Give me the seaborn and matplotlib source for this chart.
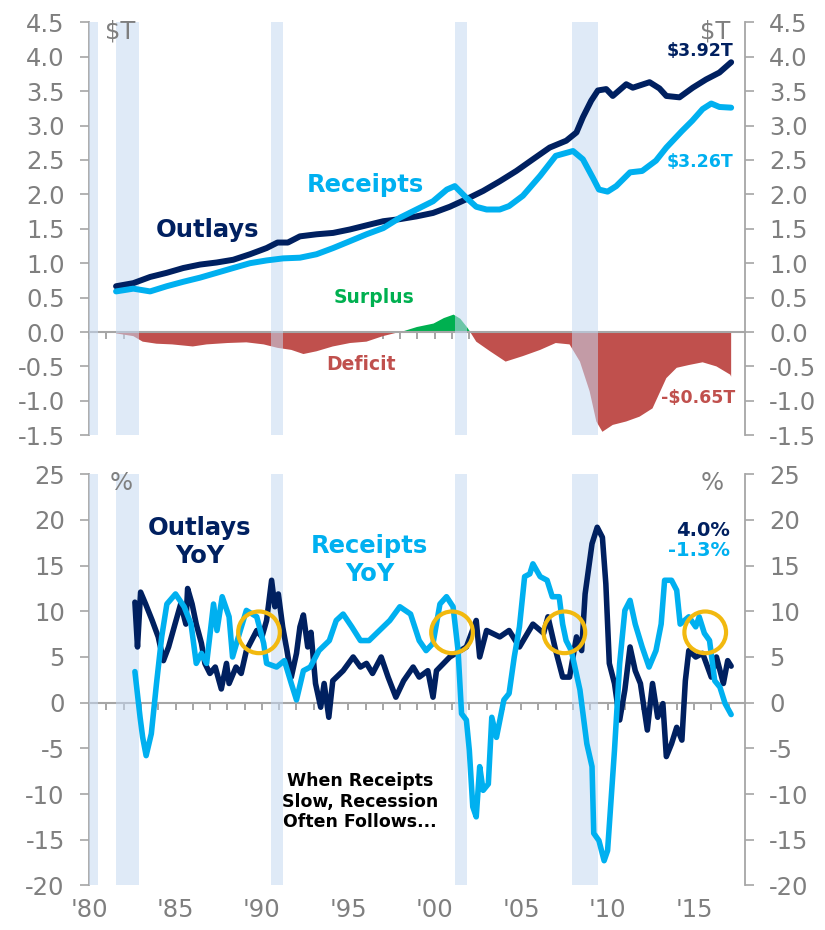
import numpy as np
import pandas as pd
import matplotlib
matplotlib.use("Agg")
import matplotlib.pyplot as plt
import seaborn as sns

# ---------------- data ----------------
outlay_years = [1981.56, 1982.56, 1983.53, 1984.49, 1985.45, 1986.42, 1987.38, 1988.34, 1989.31,
                1990.27, 1990.9, 1991.5, 1992.2, 1993.16, 1994.12, 1995.09, 1996.05, 1997.02,
                1997.98, 1998.94, 1999.9, 2000.87, 2001.83, 2002.8, 2003.76, 2004.72, 2005.68,
                2006.65, 2007.61, 2008.2, 2008.57, 2009.05, 2009.44, 2009.92, 2010.3, 2011.08,
                2011.46, 2012.43, 2013.0, 2013.4, 2014.16, 2014.93, 2015.7, 2016.47, 2017.15]
outlays = [0.665, 0.71, 0.80, 0.86, 0.93, 0.98, 1.01, 1.05, 1.13,
           1.22, 1.30, 1.30, 1.39, 1.42, 1.44, 1.49, 1.55, 1.61,
           1.64, 1.68, 1.73, 1.82, 1.93, 2.05, 2.19, 2.34, 2.51,
           2.68, 2.78, 2.90, 3.12, 3.36, 3.51, 3.53, 3.43, 3.60,
           3.55, 3.63, 3.54, 3.43, 3.41, 3.55, 3.67, 3.77, 3.92]

receipt_years = [1981.56, 1982.56, 1983.53, 1984.49, 1985.45, 1986.42, 1987.38, 1988.34, 1989.31,
                 1990.27, 1991.23, 1992.2, 1993.16, 1994.12, 1995.09, 1996.05, 1997.02, 1997.98,
                 1998.94, 1999.9, 2000.7, 2001.16, 2001.83, 2002.4, 2003.0, 2003.76, 2004.3,
                 2005.1, 2006.1, 2007.0, 2008.0, 2008.57, 2009.15, 2009.5, 2010.0, 2010.5,
                 2011.3, 2012.0, 2012.8, 2013.4, 2014.3, 2014.9, 2015.5, 2016.0, 2016.47, 2017.15]
receipts = [0.59, 0.63, 0.59, 0.665, 0.73, 0.79, 0.86, 0.93, 1.00,
            1.04, 1.07, 1.08, 1.13, 1.22, 1.32, 1.42, 1.51, 1.66,
            1.78, 1.90, 2.07, 2.12, 1.95, 1.82, 1.78, 1.78, 1.83,
            1.98, 2.27, 2.56, 2.63, 2.51, 2.24, 2.07, 2.04, 2.12,
            2.32, 2.34, 2.49, 2.68, 2.92, 3.07, 3.24, 3.32, 3.27, 3.26]

balance_years = [1981.56, 1982.56, 1983.1, 1983.9, 1984.8, 1986.0, 1986.8, 1988.0, 1989.1,
                 1990.1, 1990.9, 1991.7, 1992.4, 1993.16, 1994.1, 1995.1, 1996.05, 1997.0,
                 1997.8, 1998.3, 1998.94, 1999.9, 2000.5, 2001.06, 2001.45, 2001.83, 2002.05,
                 2002.4, 2003.2, 2004.1, 2005.1, 2006.1, 2007.0, 2007.8, 2008.4, 2008.96,
                 2009.35, 2009.7, 2010.3, 2011.08, 2011.85, 2012.6, 2013.4, 2014.0, 2014.7,
                 2015.5, 2016.3, 2017.1, 2017.15]
balance = [-0.02, -0.06, -0.14, -0.17, -0.18, -0.21, -0.18, -0.16, -0.15,
           -0.18, -0.23, -0.26, -0.32, -0.28, -0.21, -0.16, -0.14, -0.06,
           -0.01, 0.03, 0.08, 0.13, 0.21, 0.26, 0.20, 0.08, 0.0,
           -0.14, -0.28, -0.43, -0.35, -0.26, -0.16, -0.18, -0.43, -0.86,
           -1.30, -1.45, -1.35, -1.30, -1.23, -1.11, -0.67, -0.52, -0.48,
           -0.44, -0.50, -0.62, -0.65]

out_yoy_years = [1982.65, 1982.8, 1982.98, 1983.27, 1983.65, 1984.0, 1984.3, 1984.6, 1984.97,
                 1985.3, 1985.6, 1985.7, 1985.96, 1986.2, 1986.5, 1986.7, 1986.99, 1987.3,
                 1987.65, 1987.95, 1988.1, 1988.5, 1988.8, 1989.1, 1989.4, 1989.7, 1990.0,
                 1990.27, 1990.56, 1990.75, 1990.95, 1991.2, 1991.45, 1991.7, 1992.0, 1992.2,
                 1992.4, 1992.65, 1992.84, 1993.1, 1993.4, 1993.6, 1993.87, 1994.1, 1994.7,
                 1995.28, 1995.7, 1996.05, 1996.4, 1996.9, 1997.3, 1997.75, 1998.2, 1998.75,
                 1999.1, 1999.6, 1999.9, 2000.1, 2000.87, 2001.83, 2002.4, 2002.6, 2003.0,
                 2003.76, 2004.3, 2004.9, 2005.68, 2006.3, 2006.55, 2007.0, 2007.4, 2007.8,
                 2008.2, 2008.5, 2008.7, 2009.1, 2009.4, 2009.7, 2009.9, 2010.1, 2010.4,
                 2010.7, 2011.0, 2011.3, 2011.6, 2011.9, 2012.3, 2012.6, 2012.9, 2013.2,
                 2013.4, 2013.7, 2014.0, 2014.3, 2014.5, 2014.7, 2015.1, 2015.5, 2016.0,
                 2016.3, 2016.7, 2016.95, 2017.15]
outlays_yoy = [11.0, 6.1, 12.1, 10.8, 9.0, 7.2, 4.6, 6.1, 8.6,
               10.8, 8.6, 12.5, 10.8, 8.6, 6.5, 4.3, 3.2, 3.9,
               1.5, 4.3, 2.1, 3.9, 3.2, 5.7, 6.8, 7.9, 7.2,
               9.0, 13.4, 10.5, 11.9, 8.3, 5.7, 2.8, 5.4, 8.3,
               9.6, 6.1, 7.7, 2.1, -0.5, 2.1, -1.6, 2.4, 3.5,
               5.0, 3.9, 4.3, 3.2, 5.0, 2.8, 0.6, 2.4, 3.9,
               2.8, 3.5, 0.6, 3.5, 5.0, 6.1, 9.0, 5.0, 7.9,
               7.2, 7.9, 6.1, 8.6, 7.6, 9.4, 5.7, 2.8, 2.8,
               7.2, 5.7, 11.9, 17.4, 19.2, 18.1, 13.0, 4.3, 2.1,
               -1.9, 1.4, 6.1, 3.5, 2.1, -3.0, 2.1, -1.6, -0.1,
               -5.9, -4.5, -2.7, -4.1, 2.4, 5.7, 5.0, 5.4, 2.8,
               5.0, 2.1, 4.6, 4.0]

rec_yoy_years = [1982.65, 1982.95, 1983.1, 1983.3, 1983.6, 1983.9, 1984.2, 1984.5, 1985.0,
                 1985.5, 1985.9, 1986.2, 1986.5, 1986.8, 1987.2, 1987.4, 1987.7, 1988.1,
                 1988.3, 1988.7, 1989.1, 1989.7, 1990.1, 1990.27, 1990.85, 1991.3, 1991.7,
                 1992.0, 1992.4, 1992.8, 1993.3, 1993.9, 1994.3, 1994.7, 1995.2, 1995.7,
                 1996.2, 1996.8, 1997.4, 1997.98, 1998.6, 1999.1, 1999.5, 1999.9, 2000.3,
                 2000.68, 2001.06, 2001.35, 2001.55, 2001.83, 2002.0, 2002.2, 2002.4, 2002.6,
                 2002.8, 2003.1, 2003.3, 2003.57, 2004.0, 2004.3, 2004.6, 2004.9, 2005.2,
                 2005.5, 2005.68, 2006.1, 2006.5, 2006.8, 2007.2, 2007.4, 2007.6, 2007.9,
                 2008.4, 2008.8, 2009.1, 2009.2, 2009.5, 2009.8, 2010.0, 2010.4, 2010.7,
                 2011.0, 2011.3, 2011.6, 2012.0, 2012.4, 2012.8, 2013.1, 2013.3, 2013.7,
                 2014.0, 2014.2, 2014.7, 2015.1, 2015.3, 2015.6, 2015.9, 2016.2, 2016.5,
                 2016.8, 2017.15]
receipts_yoy = [3.4, -1.6, -3.8, -5.8, -3.4, 2.1, 7.2, 10.8, 11.9,
                10.5, 8.6, 4.3, 5.4, 4.3, 10.8, 7.9, 11.6, 9.4,
                5.0, 7.6, 10.1, 9.4, 6.5, 4.3, 3.9, 4.6, 2.1,
                0.3, 3.5, 3.9, 5.7, 6.8, 9.0, 9.7, 8.3, 6.8,
                6.8, 7.9, 9.0, 10.5, 9.7, 6.8, 5.7, 6.5, 10.8,
                11.6, 10.5, 5.7, -1.2, -1.9, -5.2, -11.4, -12.5, -7.0,
                -9.6, -8.9, -1.6, -3.8, 0.3, 1.0, 5.0, 8.3, 13.8,
                14.1, 15.2, 13.8, 13.4, 11.6, 11.6, 8.6, 6.8, 5.7,
                1.4, -4.5, -7.0, -14.3, -15.1, -17.3, -16.2, -5.2, 4.3,
                10.1, 11.2, 8.6, 6.1, 3.9, 5.7, 8.6, 13.4, 13.4,
                12.3, 8.6, 9.4, 8.3, 9.4, 7.6, 6.8, 2.4, 1.7,
                -0.1, -1.3]

recession_start = [1980.0, 1981.54, 1990.54, 2001.17, 2007.92]
recession_end = [1980.54, 1982.87, 1991.21, 2001.84, 2009.46]

circle_years = [1989.83, 2001.0, 2007.5, 2015.65]
circle_level = [7.7, 7.7, 7.7, 7.7]

top_ticks = [-1.5, -1.0, -0.5, 0.0, 0.5, 1.0, 1.5, 2.0, 2.5, 3.0, 3.5, 4.0, 4.5]
bottom_ticks = [-20, -15, -10, -5, 0, 5, 10, 15, 20, 25]
year_ticks = [1980, 1985, 1990, 1995, 2000, 2005, 2010, 2015]
year_labels = ["'80", "'85", "'90", "'95", "'00", "'05", "'10", "'15"]

# ---------------- style ----------------
sns.set_style("white")
plt.rcParams['font.family'] = ['DejaVu Sans']

NAVY = '#002060'
CYAN = '#00B0F0'
RED = '#C0504D'
GREEN = '#00B050'
GREY = '#7F7F7F'
SPINE = '#A6A6A6'
BAND = '#C6D9F1'
GOLD = '#F2B90F'

fig = plt.figure(figsize=(8.25, 9.3), dpi=100)
ax1 = fig.add_axes([0.108, 0.532, 0.795, 0.444])
ax2 = fig.add_axes([0.108, 0.048, 0.795, 0.442])

XMIN, XMAX = 1980.0, 2017.95


def style_axes(ax, ylim, yticks, fmt):
    ax.set_xlim(XMIN, XMAX)
    ax.set_ylim(*ylim)
    ax.set_yticks(yticks)
    ax.set_yticklabels([fmt(v) for v in yticks])
    for s in ['top', 'right']:
        ax.spines[s].set_visible(False)
    ax.spines['left'].set_color(SPINE)
    ax.spines['left'].set_linewidth(1.3)
    ax.spines['bottom'].set_position(('data', 0))
    ax.spines['bottom'].set_color(SPINE)
    ax.spines['bottom'].set_linewidth(1.5)
    ax.set_xticks(np.arange(1980, 2018))
    ax.set_xticklabels([])
    ax.tick_params(axis='x', bottom=True, top=False, direction='out', length=5,
                   width=1.4, color=SPINE)
    ax.tick_params(axis='y', left=True, right=False, direction='out', length=6.5,
                   width=1.2, color=SPINE, labelsize=17.5, labelcolor=GREY, pad=11)
    ax.set_xlabel('')
    ax.set_ylabel('')
    # right axis
    axr = ax.twinx()
    axr.set_ylim(*ylim)
    axr.set_yticks(yticks)
    axr.set_yticklabels([fmt(v) for v in yticks])
    for s in ['top', 'left', 'bottom']:
        axr.spines[s].set_visible(False)
    axr.spines['right'].set_color(SPINE)
    axr.spines['right'].set_linewidth(1.3)
    axr.tick_params(axis='y', right=True, left=False, direction='out', length=6.5,
                    width=1.2, color=SPINE, labelsize=17.5, labelcolor=GREY, pad=11)
    axr.set_ylabel('')
    return axr


def bands(ax):
    for s, e in zip(recession_start, recession_end):
        ax.axvspan(s, e, color=BAND, alpha=0.55, lw=0, zorder=3)


# ---------------- top panel ----------------
bal = np.array(balance)
by = np.array(balance_years)
ax1.fill_between(by, bal, 0, where=bal <= 0, interpolate=True, color=RED, lw=0, zorder=1)
ax1.fill_between(by, bal, 0, where=bal >= 0, interpolate=True, color=GREEN, lw=0, zorder=1)
bands(ax1)
df_o = pd.DataFrame({'year': outlay_years, 'value': outlays})
df_r = pd.DataFrame({'year': receipt_years, 'value': receipts})
sns.lineplot(data=df_o, x='year', y='value', ax=ax1, color=NAVY, lw=4.3, zorder=5,
             estimator=None, sort=False)
sns.lineplot(data=df_r, x='year', y='value', ax=ax1, color=CYAN, lw=4.3, zorder=5,
             estimator=None, sort=False)
ax1r = style_axes(ax1, (-1.5, 4.5), top_ticks, lambda v: f"{v:.1f}")

t1 = ax1.transAxes
ax1.text(0.024, 0.978, '$T', transform=t1, fontsize=17.5, color=GREY, va='center', ha='left')
ax1.text(0.977, 0.978, '$T', transform=t1, fontsize=17.5, color=GREY, va='center', ha='right')
ax1.text(0.982, 0.930, '$3.92T', transform=t1, fontsize=12.5, color=NAVY, weight='bold',
         va='center', ha='right', zorder=6)
ax1.text(0.982, 0.661, '$3.26T', transform=t1, fontsize=12.5, color=CYAN, weight='bold',
         va='center', ha='right', zorder=6)
ax1.text(0.985, 0.0896, '-$0.65T', transform=t1, fontsize=12.5, color=RED, weight='bold',
         va='center', ha='right', zorder=6)
ax1.text(0.181, 0.496, 'Outlays', transform=t1, fontsize=17.5, color=NAVY, weight='bold',
         va='center', ha='center', zorder=6)
ax1.text(0.421, 0.605, 'Receipts', transform=t1, fontsize=17.5, color=CYAN, weight='bold',
         va='center', ha='center', zorder=6)
ax1.text(0.434, 0.334, 'Surplus', transform=t1, fontsize=13.5, color=GREEN, weight='bold',
         va='center', ha='center', zorder=6)
ax1.text(0.414, 0.172, 'Deficit', transform=t1, fontsize=13.5, color=RED, weight='bold',
         va='center', ha='center', zorder=6)

# ---------------- bottom panel ----------------
bands(ax2)
df_oy = pd.DataFrame({'year': out_yoy_years, 'value': outlays_yoy})
df_ry = pd.DataFrame({'year': rec_yoy_years, 'value': receipts_yoy})
sns.lineplot(data=df_oy, x='year', y='value', ax=ax2, color=NAVY, lw=4.0, zorder=5,
             estimator=None, sort=False)
sns.lineplot(data=df_ry, x='year', y='value', ax=ax2, color=CYAN, lw=4.0, zorder=6,
             estimator=None, sort=False)
sns.scatterplot(x=circle_years, y=circle_level, ax=ax2, s=900, marker='o',
                facecolor='none', edgecolor=GOLD, linewidth=3.0, zorder=7)
ax2r = style_axes(ax2, (-20, 25), bottom_ticks, lambda v: f"{v:d}")

sec = ax2.secondary_xaxis(0.0)
sec.set_xticks(year_ticks)
sec.set_xticklabels(year_labels)
sec.tick_params(length=0, labelsize=17.5, labelcolor=GREY, pad=9)
sec.spines['bottom'].set_visible(False)

t2 = ax2.transAxes
ax2.text(0.049, 0.978, '%', transform=t2, fontsize=17.5, color=GREY, va='center', ha='center')
ax2.text(0.950, 0.978, '%', transform=t2, fontsize=17.5, color=GREY, va='center', ha='center')
ax2.text(0.169, 0.835, 'Outlays\nYoY', transform=t2, fontsize=17.5, color=NAVY, weight='bold',
         va='center', ha='center', linespacing=1.2, zorder=8)
ax2.text(0.428, 0.791, 'Receipts\nYoY', transform=t2, fontsize=17.5, color=CYAN, weight='bold',
         va='center', ha='center', linespacing=1.2, zorder=8)
ax2.text(0.977, 0.864, '4.0%', transform=t2, fontsize=14, color=NAVY, weight='bold',
         va='center', ha='right', zorder=8)
ax2.text(0.977, 0.815, '-1.3%', transform=t2, fontsize=14, color=CYAN, weight='bold',
         va='center', ha='right', zorder=8)
ax2.text(0.413, 0.204, 'When Receipts\nSlow, Recession\nOften Follows...', transform=t2,
         fontsize=12.5, color='black', weight='bold', va='center', ha='center',
         linespacing=1.15, zorder=8)

fig.savefig('out.png', dpi=100)
